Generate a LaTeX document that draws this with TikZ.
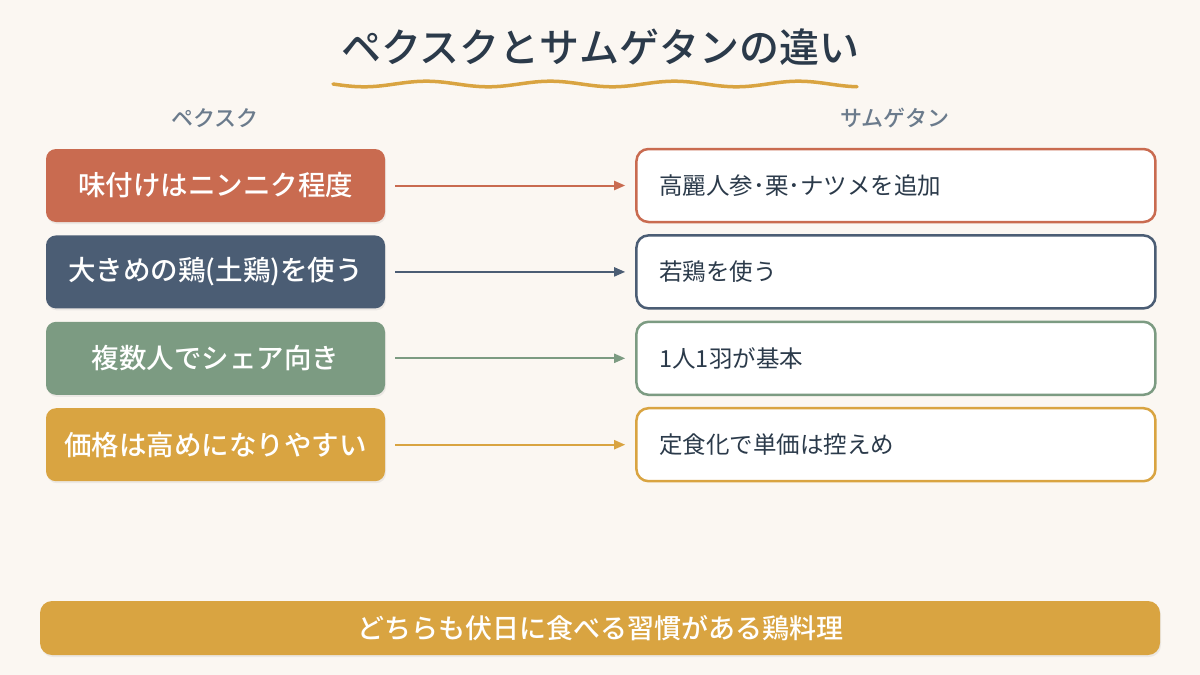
\documentclass[tikz,border=0pt]{standalone}
\usepackage{fontspec}
\setmainfont{Noto Sans CJK JP}[BoldFont={Noto Sans CJK JP Medium}]
\usepackage{xcolor}
\usetikzlibrary{arrows.meta, positioning, shadows}

\definecolor{bgcream}{HTML}{FBF7F2}
\definecolor{inkblue}{HTML}{2B3A4A}
\definecolor{headgray}{HTML}{6B7B8C}
\definecolor{terra}{HTML}{C96B50}
\definecolor{slate}{HTML}{4B5D74}
\definecolor{sage}{HTML}{7C9B82}
\definecolor{gold}{HTML}{D9A441}

\begin{document}
\begin{tikzpicture}[
    x=1pt, y=-1pt,
    node distance=13pt and 250pt,
    pbox/.style={rectangle, rounded corners=10pt, minimum width=339pt, minimum height=73pt, align=center, text=white, font=\fontsize{27.5}{31}\selectfont\bfseries, drop shadow={opacity=0.12, shadow xshift=1pt, shadow yshift=-2pt}},
    sbox/.style={rectangle, draw, line width=2.5pt, fill=white, rounded corners=12pt, minimum height=73pt, text width=473pt, inner xsep=23pt, align=left, text=inkblue, font=\fontsize{23.5}{27}\selectfont},
    head/.style={text=headgray, font=\fontsize{22}{26}\selectfont\bfseries},
    arrow/.style={-{Triangle[length=11pt, width=9pt]}, line width=2pt, shorten <=10pt, shorten >=10pt}
]
\fill[bgcream] (0,0) rectangle (1200,675);
\useasboundingbox (0,0) rectangle (1200,675);

% title
\node[text=inkblue, font=\fontsize{40}{44}\selectfont\bfseries] (title) at (600,47) {ペクスクとサムゲタンの違い};
\draw[gold, line width=3.5pt, line cap=round] plot[domain=333:857, samples=120] (\x, {84+2.8*sin((\x-333)*2.9)});

% column heads
\node[head] (hpek) at (215,118) {ペクスク};
\node[head] (hsam) at (895,118) {サムゲタン};

% pekseuk side
\node[pbox, fill=terra] (pek1) at (215.5,185.5) {味付けはニンニク程度};
\node[pbox, fill=slate, below=of pek1] (pek2) {大きめの鶏(土鶏)を使う};
\node[pbox, fill=sage, below=of pek2] (pek3) {複数人でシェア向き};
\node[pbox, fill=gold, below=of pek3] (pek4) {価格は高めになりやすい};

% samgyetang side
\node[sbox, draw=terra, right=of pek1] (sam1) {高麗人参･栗･ナツメを追加};
\node[sbox, draw=slate, right=of pek2] (sam2) {若鶏を使う};
\node[sbox, draw=sage, right=of pek3] (sam3) {1人1羽が基本};
\node[sbox, draw=gold, right=of pek4] (sam4) {定食化で単価は控えめ};

\draw[arrow, terra] (pek1) -- (sam1);
\draw[arrow, slate] (pek2) -- (sam2);
\draw[arrow, sage] (pek3) -- (sam3);
\draw[arrow, gold] (pek4) -- (sam4);

% common point
\node[rectangle, fill=gold, rounded corners=12pt, minimum width=1120pt, minimum height=54pt, text=white, font=\fontsize{27}{30}\selectfont\bfseries, drop shadow={opacity=0.12, shadow xshift=1pt, shadow yshift=-2pt}] (note) at (600,628) {どちらも伏日に食べる習慣がある鶏料理};
\end{tikzpicture}
\end{document}
